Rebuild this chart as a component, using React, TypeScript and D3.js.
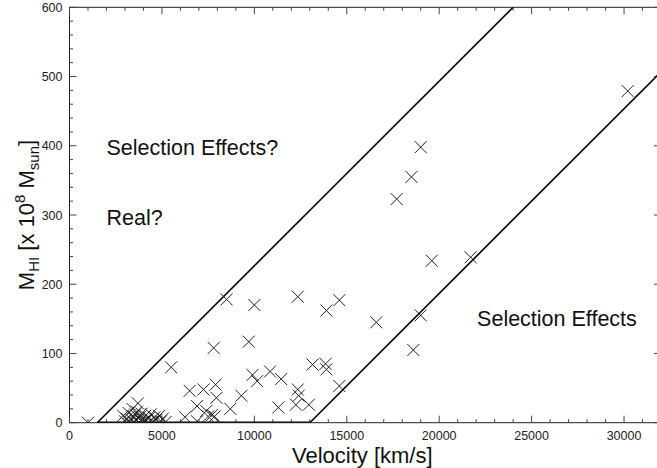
import React from "react";
import * as d3 from "d3";

// Data
const velocity = [
  1000, 2900, 3000, 3100, 3200, 3250, 3350, 3400, 3450, 3500, 3550, 3600, 3650, 3700, 3750,
  3800, 3850, 3900, 3950, 4000, 4100, 4150, 4250, 4300, 4400, 4500, 4600, 4700, 4850, 4950,
  5050, 5200, 5500, 6250, 6500, 6900, 6900, 7250, 7400, 7500, 7700, 7850, 7900, 7950, 7800,
  8700, 9300, 8500, 9700, 9900, 10000, 10150, 10850, 11300, 11450, 12250, 12350, 12400, 12950,
  12350, 13150, 13850, 13900, 14600, 13900, 14600, 16600, 17700, 18500, 19000, 19600, 21700,
  19000, 18600, 30200,
];
const massHI = [
  0, 10, 2, 6, 14, 0, 4, 20, 9, 1, 12, 5, 16, 28, 0,
  8, 3, 13, 6, 1, 10, 4, 0, 7, 12, 2, 8, 4, 10, 2,
  6, 1, 80, 8, 46, 24, 2, 48, 17, 9, 11, 9, 55, 36, 108,
  20, 39, 178, 117, 69, 170, 60, 74, 22, 63, 26, 48, 39, 26,
  182, 84, 85, 77, 53, 162, 177, 145, 323, 355, 398, 234, 239,
  155, 105, 479,
];

// Boundary lines (velocity, mass)
const upperBoundary: [number, number][] = [[1500, 0], [24000, 600]];
const lowerBoundary: [number, number][] = [[13000, 0], [35500, 600]];
const baseBoundary: [number, number][] = [[1500, 0], [13000, 0]];

const xMajorTicks = [0, 5000, 10000, 15000, 20000, 25000, 30000];
const yMajorTicks = [0, 100, 200, 300, 400, 500, 600];

const annotations = [
  { text: "Selection Effects?", v: 2000, m: 386 },
  { text: "Real?", v: 2000, m: 285 },
  { text: "Selection Effects", v: 22050, m: 139 },
];

const W = 657;
const H = 468;
const left = 69.5;
const right = 661;
const top = 7.3;
const bottom = 422.7;
const FONT = "'Liberation Sans', Arial, Helvetica, sans-serif";

export default function App() {
  const x = d3.scaleLinear().domain([0, 32000]).range([left, right]);
  const y = d3.scaleLinear().domain([0, 600]).range([bottom, top]);
  const line = d3
    .line<[number, number]>()
    .x((d) => x(d[0]))
    .y((d) => y(d[1]));

  const xMinor = d3.range(0, 32001, 1000).filter((v) => v % 5000 !== 0);
  const yMinor = d3.range(0, 601, 20).filter((v) => v % 100 !== 0);
  const maj = 7;
  const mnr = 3.5;
  const tickColor = "#444";
  const s = 6;

  return (
    <div style={{ position: "fixed", left: 0, top: 0, width: W, height: H, background: "#fff", overflow: "hidden" }}>
      <svg width={W} height={H} style={{ display: "block" }}>
        <defs>
          <clipPath id="plot">
            <rect x={left} y={top} width={right - left} height={bottom - top} />
          </clipPath>
        </defs>
        {/* frame */}
        <rect x={left} y={top} width={right - left} height={bottom - top} fill="none" stroke="#222" strokeWidth={1} />
        {/* ticks */}
        <g stroke={tickColor} strokeWidth={1}>
          {xMajorTicks.map((v) => (
            <g key={"xM" + v}>
              <line x1={x(v)} x2={x(v)} y1={bottom} y2={bottom - maj} />
              <line x1={x(v)} x2={x(v)} y1={top} y2={top + maj} />
            </g>
          ))}
          {xMinor.map((v) => (
            <g key={"xm" + v}>
              <line x1={x(v)} x2={x(v)} y1={bottom} y2={bottom - mnr} />
              <line x1={x(v)} x2={x(v)} y1={top} y2={top + mnr} />
            </g>
          ))}
          {yMajorTicks.map((v) => (
            <g key={"yM" + v}>
              <line x1={left} x2={left + maj} y1={y(v)} y2={y(v)} />
              <line x1={right} x2={right - maj} y1={y(v)} y2={y(v)} />
            </g>
          ))}
          {yMinor.map((v) => (
            <g key={"ym" + v}>
              <line x1={left} x2={left + mnr} y1={y(v)} y2={y(v)} />
              <line x1={right} x2={right - mnr} y1={y(v)} y2={y(v)} />
            </g>
          ))}
        </g>
        {/* tick labels */}
        <g fontFamily={FONT} fontSize={12.5} fill="#222">
          {xMajorTicks.map((v) => (
            <text key={"xl" + v} x={x(v)} y={bottom + 17} textAnchor="middle">
              {v}
            </text>
          ))}
          {yMajorTicks.map((v) => (
            <text key={"yl" + v} x={left - 7} y={y(v) + 4.5} textAnchor="end">
              {v}
            </text>
          ))}
        </g>
        {/* boundary lines */}
        <g clipPath="url(#plot)" fill="none" stroke="#000">
          <path d={line(upperBoundary) || ""} strokeWidth={1.6} />
          <path d={line(lowerBoundary) || ""} strokeWidth={1.6} />
          <path d={line(baseBoundary) || ""} strokeWidth={2.4} />
        </g>
        {/* points */}
        <g stroke="#222" strokeWidth={1} clipPath="url(#plot)">
          {velocity.map((v, i) => {
            const cx = x(v);
            const cy = y(massHI[i]);
            return (
              <path key={"p" + i} d={`M${cx - s},${cy - s}L${cx + s},${cy + s}M${cx - s},${cy + s}L${cx + s},${cy - s}`} />
            );
          })}
        </g>
        {/* annotations */}
        <g fontFamily={FONT} fontSize={21.5} fill="#111">
          {annotations.map((a) => (
            <text key={a.text} x={x(a.v)} y={y(a.m)}>
              {a.text}
            </text>
          ))}
        </g>
        {/* axis titles */}
        <text x={(left + 655) / 2} y={463} textAnchor="middle" fontFamily={FONT} fontSize={22} fill="#111">
          Velocity [km/s]
        </text>
        <text transform={`translate(34,${(top + bottom) / 2}) rotate(-90)`} textAnchor="middle" fontFamily={FONT} fontSize={22} fill="#111">
          M<tspan dy={5} fontSize={15}>HI</tspan>
          <tspan dy={-5}> [x 10</tspan>
          <tspan dy={-9} fontSize={15}>8</tspan>
          <tspan dy={9}> M</tspan>
          <tspan dy={5} fontSize={15}>sun</tspan>
          <tspan dy={-5}>]</tspan>
        </text>
      </svg>
    </div>
  );
}
